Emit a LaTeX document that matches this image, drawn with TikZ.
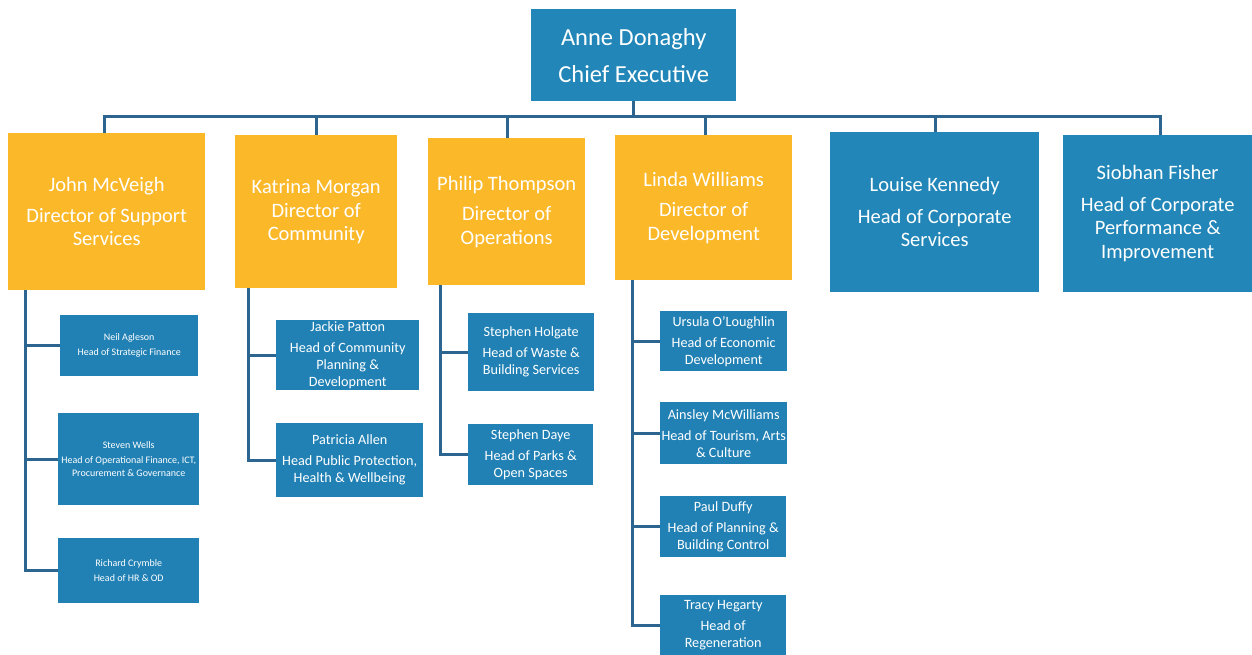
\documentclass[tikz,border=0pt]{standalone}
\usepackage{fontspec}
\setmainfont{Carlito}
\definecolor{orgbox}{HTML}{FBB829}
\definecolor{bluebox}{HTML}{2287B8}
\definecolor{subbox}{HTML}{2181B5}
\definecolor{linecol}{HTML}{2C6590}
\tikzset{
  box/.style={inner sep=0pt, text=white, align=center, anchor=north west},
  ceobox/.style={box, fill=bluebox, font=\fontsize{24.5}{37}\selectfont},
  dirbox/.style={box, fill=orgbox, font=\fontsize{20.5}{23.5}\selectfont},
  headbox/.style={box, fill=bluebox, font=\fontsize{20.5}{23.5}\selectfont},
  subnode/.style={box, fill=subbox, font=\fontsize{14.2}{17}\selectfont},
  tinynode/.style={box, fill=subbox, font=\fontsize{10}{13}\selectfont},
  conn/.style={draw=linecol, line width=3pt},
}
\newcommand{\bx}[7]{% style, name, x1, y1, x2, y2, text
  \node[#1, minimum width=#5pt-#3pt, minimum height=#6pt-#4pt] (#2) at (#3,#4) {#7};}
\begin{document}
\begin{tikzpicture}[x=1pt,y=-1pt]
\useasboundingbox (0,0) rectangle (1252,655);
\fill[white] (0,0) rectangle (1252,655);
% CEO
\bx{ceobox}{ceo}{531}{9}{736}{101}{Anne Donaghy\\Chief Executive}
% directors
\bx{dirbox}{jm}{8}{133}{205}{290}{John McVeigh\\[7pt]Director of Support\\Services}
\bx{dirbox}{km}{235}{135}{397}{288}{Katrina Morgan\\Director of\\Community}
\bx{dirbox}{pt}{428}{138}{585}{285}{Philip Thompson\\[7pt]Director of\\Operations}
\bx{dirbox}{lw}{615}{135}{792}{280}{Linda Williams\\[7pt]Director of\\Development}
\bx{headbox}{lk}{830}{132}{1039}{292}{Louise Kennedy\\[8pt]Head of Corporate\\Services}
\bx{headbox}{sf}{1063}{135}{1252}{292}{Siobhan Fisher\\[8pt]Head of Corporate\\Performance \&\\Improvement}
% McVeigh subordinates
\bx{tinynode}{jm1}{60}{315}{198}{376}{Neil Agleson\\[2pt]Head of Strategic Finance}
\bx{tinynode}{jm2}{58}{413}{199}{505}{Steven Wells\\[2pt]Head of Operational Finance, ICT,\\Procurement \& Governance}
\bx{tinynode}{jm3}{58}{538}{199}{603}{Richard Crymble\\[2pt]Head of HR \& OD}
% Morgan subordinates
\bx{subnode}{km1}{276}{320}{419}{390}{Jackie Patton\\[4pt]Head of Community\\Planning \&\\Development}
\bx{subnode}{km2}{276}{423}{423}{497}{Patricia Allen\\[4pt]Head Public Protection,\\Health \& Wellbeing}
% Thompson subordinates
\bx{subnode}{pt1}{468}{313}{594}{391}{Stephen Holgate\\[4pt]Head of Waste \&\\Building Services}
\bx{subnode}{pt2}{468}{424}{593}{485}{Stephen Daye\\[4pt]Head of Parks \&\\Open Spaces}
% Williams subordinates
\bx{subnode}{lw1}{660}{311}{787}{371}{Ursula O'Loughlin\\[4pt]Head of Economic\\Development}
\bx{subnode}{lw2}{660}{402}{787}{464}{Ainsley McWilliams\\[4pt]Head of Tourism, Arts\\\& Culture}
\bx{subnode}{lw3}{660}{496}{786}{557}{Paul Duffy\\[4pt]Head of Planning \&\\Building Control}
\bx{subnode}{lw4}{660}{595}{786}{655}{Tracy Hegarty\\[4pt]Head of\\Regeneration}
% bus
\coordinate (bc) at (633,117);
\coordinate (b1) at (104,117);
\coordinate (b2) at (316,117);
\coordinate (b3) at (507,117);
\coordinate (b4) at (705,117);
\coordinate (b5) at (935,117);
\coordinate (b6) at (1160,117);
\draw[conn] (ceo.south -| bc) -- (bc);
\draw[conn] (b1) -- (b6);
\foreach \b/\n in {b1/jm,b2/km,b3/pt,b4/lw,b5/lk,b6/sf}
  \draw[conn] ([yshift=1.5pt]\b) -- (\b |- \n.north);
% spines
\coordinate (s1) at (25,0);
\coordinate (s2) at (248,0);
\coordinate (s3) at (440,0);
\coordinate (s4) at (632,0);
\draw[conn] (s1 |- jm.south) |- (jm3.west);
\draw[conn] (s1 |- jm1.west) -- (jm1.west);
\draw[conn] (s1 |- jm2.west) -- (jm2.west);
\draw[conn] (s2 |- km.south) |- (km2.west);
\draw[conn] (s2 |- km1.west) -- (km1.west);
\draw[conn] (s3 |- pt.south) |- (pt2.west);
\draw[conn] (s3 |- pt1.west) -- (pt1.west);
\draw[conn] (s4 |- lw.south) |- (lw4.west);
\draw[conn] (s4 |- lw1.west) -- (lw1.west);
\draw[conn] (s4 |- lw2.west) -- (lw2.west);
\draw[conn] (s4 |- lw3.west) -- (lw3.west);
\end{tikzpicture}
\end{document}
